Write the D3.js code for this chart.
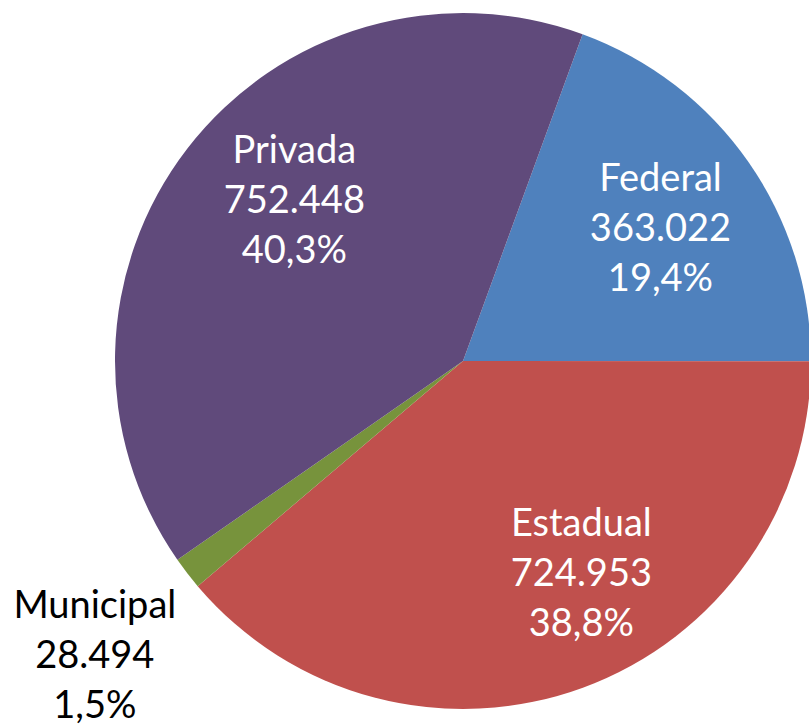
<!DOCTYPE html>
<html>
<head>
<meta charset="utf-8">
<script src="https://cdn.jsdelivr.net/npm/d3@7"></script>
<style>
  body { margin: 0; background: #fff; }
  svg { display: block; }
</style>
</head>
<body>
<div id="chart"></div>
<script>
const categories = ["Federal", "Estadual", "Municipal", "Privada"];
const values = [363022, 724953, 28494, 752448];
const valueLabels = ["363.022", "724.953", "28.494", "752.448"];
const percentLabels = ["19,4%", "38,8%", "1,5%", "40,3%"];
const colors = ["#4F81BD", "#C0504D", "#77933C", "#604A7B"];

const width = 809;
const height = 725;
const cx = 463, cy = 361, radius = 348;

const svg = d3.select("#chart")
    .append("svg")
    .attr("width", width)
    .attr("height", height);

const g = svg.append("g")
    .attr("transform", `translate(${cx},${cy})`);

const data = categories.map((c, i) => ({ name: c, value: values[i], i: i }));

const pie = d3.pie()
    .value(d => d.value)
    .sort(null)
    .startAngle(20.1 * Math.PI / 180)
    .endAngle(20.1 * Math.PI / 180 + 2 * Math.PI);

const arcs = pie(data);

const arc = d3.arc().innerRadius(0).outerRadius(radius);

g.selectAll("path.slice")
    .data(arcs)
    .enter().append("path")
    .attr("class", "slice")
    .attr("d", arc)
    .attr("fill", d => colors[d.data.i]);

// label placement: inside labels near centroid, small slices outside
const labelNudge = {
    Federal:   { da: 1, r: 238 },
    Estadual:  { da: -9, r: 243 },
    Municipal: { da: -1, r: 471 },
    Privada:   { da: 6, r: 233 }
};

const label = g.selectAll("text.label")
    .data(arcs)
    .enter().append("text")
    .attr("class", "label")
    .attr("transform", d => {
        const n = labelNudge[d.data.name];
        const a = (d.startAngle + d.endAngle) / 2 + n.da * Math.PI / 180;
        return `translate(${n.r * Math.sin(a)},${-n.r * Math.cos(a)})`;
    })
    .style("font-family", "Lato, 'Open Sans', sans-serif")
    .style("font-size", "38px")
    .style("text-anchor", "middle")
    .attr("fill", d => d.data.name === "Municipal" ? "#000" : "#fff");

const lines = d => [d.data.name, valueLabels[d.data.i], percentLabels[d.data.i]];

label.selectAll("tspan")
    .data(d => lines(d))
    .enter().append("tspan")
    .attr("x", 0)
    .attr("y", (d, i) => (i - 1) * 50 + 13)
    .text(d => d);
</script>
</body>
</html>
